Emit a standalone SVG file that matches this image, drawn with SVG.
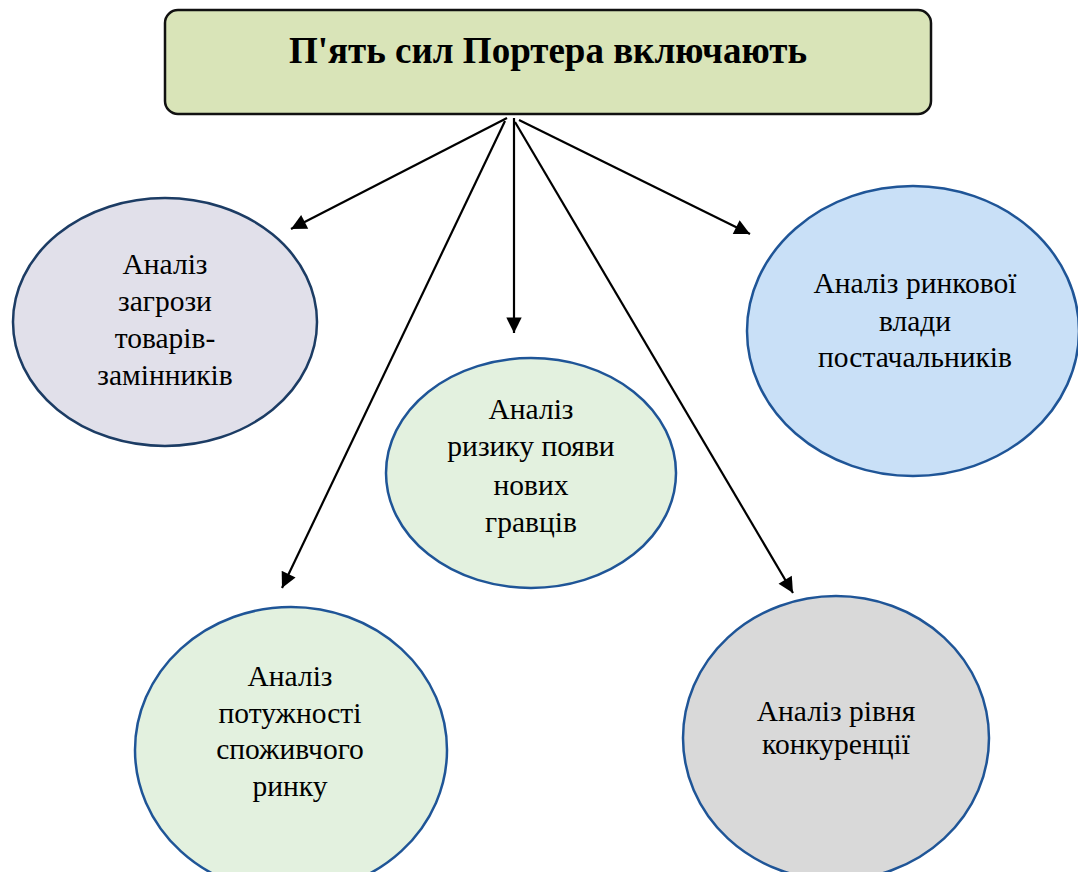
<svg xmlns="http://www.w3.org/2000/svg" width="1078" height="872" viewBox="0 0 1078 872">
<style>
.t{font-family:'Liberation Serif','Times New Roman',serif;font-size:29.5px;fill:#000;text-anchor:middle}
.title{font-family:'Liberation Serif','Times New Roman',serif;font-size:37px;font-weight:bold;fill:#000;text-anchor:middle}
.e{stroke:#1f5597;stroke-width:2.5}
.c{stroke:#000;stroke-width:2.2;fill:none;marker-end:url(#ah)}
</style>
<defs>
<marker id="ah" viewBox="0 0 10 10" refX="10" refY="5" markerWidth="7.5" markerHeight="7" markerUnits="strokeWidth" orient="auto">
<path d="M0,0 L10,5 L0,10 z" fill="#000"/>
</marker>
</defs>
<rect width="1078" height="872" fill="#fff"/>
<g id="title">
<rect x="165" y="10" width="766" height="104" rx="13" fill="#d9e4b8" stroke="#111" stroke-width="2.5"/>
<text class="title" x="548" y="63">П'ять сил Портера включають</text>
</g>
<g id="connectors">
<line class="c" x1="507" y1="118" x2="291" y2="229"/>
<line class="c" x1="505" y1="121" x2="282" y2="588"/>
<line class="c" x1="514" y1="118" x2="514" y2="333"/>
<line class="c" x1="515" y1="122" x2="793" y2="593"/>
<line class="c" x1="519" y1="120" x2="750" y2="234"/>
</g>
<g id="substitutes">
<ellipse class="e" cx="165" cy="322" rx="152" ry="124" fill="#e1e0ea" style="stroke:#1c3c64"/>
<text class="t" x="165" y="274">Аналіз</text>
<text class="t" x="165" y="311">загрози</text>
<text class="t" x="165" y="348">товарів-</text>
<text class="t" x="165" y="385">замінників</text>
</g>
<g id="new-entrants">
<ellipse class="e" cx="531" cy="473" rx="145" ry="115" fill="#e3f1df"/>
<text class="t" x="531" y="419">Аналіз</text>
<text class="t" x="531" y="456">ризику появи</text>
<text class="t" x="531" y="495">нових</text>
<text class="t" x="531" y="532">гравців</text>
</g>
<g id="suppliers">
<ellipse class="e" cx="913" cy="331" rx="166" ry="145" fill="#c9e0f7"/>
<text class="t" x="915" y="293">Аналіз ринкової</text>
<text class="t" x="915" y="331">влади</text>
<text class="t" x="915" y="367">постачальників</text>
</g>
<g id="buyers">
<ellipse class="e" cx="291" cy="750" rx="156" ry="143" fill="#e3f1df"/>
<text class="t" x="290" y="686">Аналіз</text>
<text class="t" x="290" y="723">потужності</text>
<text class="t" x="290" y="759">споживчого</text>
<text class="t" x="290" y="796">ринку</text>
</g>
<g id="rivalry">
<ellipse class="e" cx="836" cy="738" rx="153" ry="142" fill="#d9d9d9"/>
<text class="t" x="836" y="721">Аналіз рівня</text>
<text class="t" x="836" y="754">конкуренції</text>
</g>
</svg>
